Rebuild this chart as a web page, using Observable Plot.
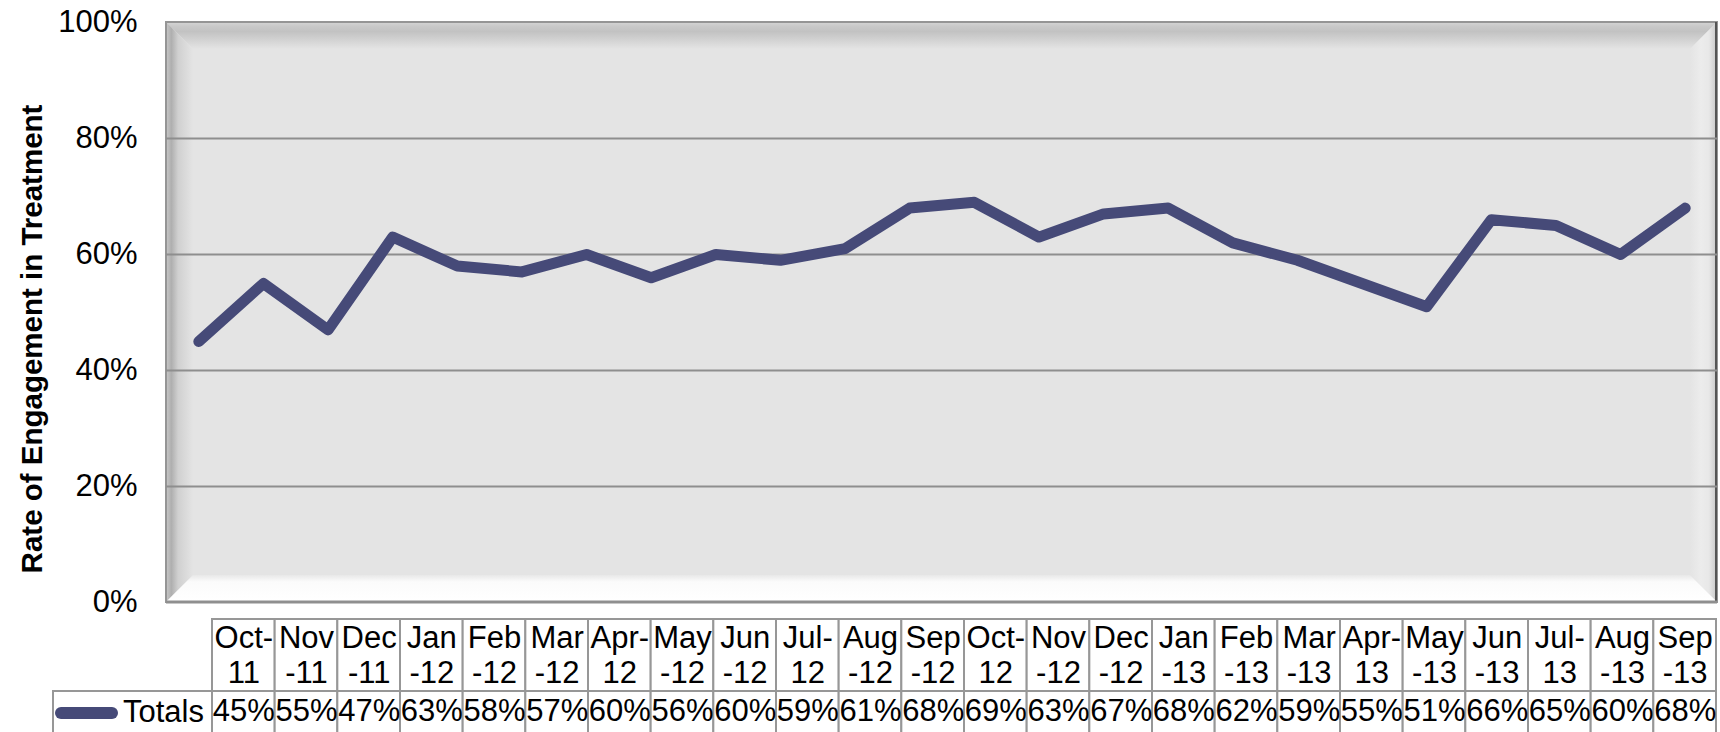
<!DOCTYPE html>
<html><head><meta charset="utf-8">
<script src="https://cdn.jsdelivr.net/npm/d3@7"></script>
<script src="https://cdn.jsdelivr.net/npm/@observablehq/plot@0.6"></script>
<style>
html,body{margin:0;padding:0;background:#fff;overflow:hidden;}
#chart{position:relative;width:1720px;height:732px;overflow:hidden;font-family:"Liberation Sans",Arial,sans-serif;}
#chart svg{display:block;overflow:hidden;max-width:none;}
#chart svg.tbl{position:absolute;left:0;top:612px;}
</style></head><body><div id="chart"></div>
<script>
// ---- data ----
const months = ["Oct-11","Nov-11","Dec-11","Jan-12","Feb-12","Mar-12","Apr-12","May-12","Jun-12","Jul-12","Aug-12","Sep-12",
                "Oct-12","Nov-12","Dec-12","Jan-13","Feb-13","Mar-13","Apr-13","May-13","Jun-13","Jul-13","Aug-13","Sep-13"];
const headerLabels = ["Oct-\n11","Nov\n-11","Dec\n-11","Jan\n-12","Feb\n-12","Mar\n-12","Apr-\n12","May\n-12","Jun\n-12","Jul-\n12","Aug\n-12","Sep\n-12",
                      "Oct-\n12","Nov\n-12","Dec\n-12","Jan\n-13","Feb\n-13","Mar\n-13","Apr-\n13","May\n-13","Jun\n-13","Jul-\n13","Aug\n-13","Sep\n-13"];
const totals = [0.45,0.55,0.47,0.63,0.58,0.57,0.60,0.56,0.60,0.59,0.61,0.68,0.69,0.63,0.67,0.68,0.62,0.59,0.55,0.51,0.66,0.65,0.60,0.68];
const yTicks = [0,0.2,0.4,0.6,0.8,1];
const gridTicks = [0.2,0.4,0.6,0.8];
const seriesName = "Totals";
const yTitle = "Rate of Engagement in Treatment";

const FONT = "Liberation Sans, Arial, sans-serif";
const LINE = "#464a78";
const FS = 31;
const pct = d3.format(".0%");
const data = months.map((m,i)=>({month:m, value:totals[i]}));

// ---- main chart ----
const main = Plot.plot({
  width:1720, height:640, marginTop:22, marginBottom:38, marginLeft:166, marginRight:3,
  style:{fontFamily:FONT, fontSize:FS+"px", color:"#000", background:"transparent"},
  x:{type:"point", domain:months, padding:0.5, round:false, axis:null},
  y:{domain:[0,1], ticks:yTicks, tickFormat:pct, tickSize:0, tickPadding:29, label:null},
  marks:[
    Plot.frame({fill:"#e4e4e4"}),
    Plot.ruleY(gridTicks,{stroke:"#8e8e8e", strokeWidth:2}),
    Plot.line(data,{x:"month", y:"value", stroke:LINE, strokeWidth:11, strokeLinejoin:"round", strokeLinecap:"round"})
  ]
});

// bevel decoration derived from scales, and y-axis title
(function(){
  const [L,R] = main.scale("x").range;
  const [B,T] = main.scale("y").range;
  const w = 27;
  const svg = d3.select(main);
  const defs = svg.insert("defs",":first-child");
  function grad(id,x1,y1,x2,y2,stops){
    const g = defs.append("linearGradient").attr("id",id).attr("x1",x1).attr("y1",y1).attr("x2",x2).attr("y2",y2);
    stops.forEach(([o,c])=>g.append("stop").attr("offset",o).attr("stop-color",c));
  }
  grad("bvTop",0,0,0,1,[[0,"#d6d6d6"],[0.15,"#c9c9c9"],[0.35,"#c2c2c2"],[1,"#e4e4e4"]]);
  grad("bvLeft",0,0,1,0,[[0,"#c8c8c8"],[0.2,"#afafaf"],[0.45,"#d0d0d0"],[1,"#e4e4e4"]]);
  grad("bvRight",0,0,1,0,[[0,"#e4e4e4"],[0.4,"#ececec"],[0.7,"#e8e8e8"],[0.9,"#d2d2d2"],[1,"#bdbdbd"]]);
  grad("bvBottom",0,0,0,1,[[0,"#e8e8e8"],[0.25,"#fbfbfb"],[1,"#ffffff"]]);
  const frameEl = main.querySelector('[aria-label="frame"]');
  const g = document.createElementNS("http://www.w3.org/2000/svg","g");
  frameEl.parentNode.insertBefore(g, frameEl.nextSibling);
  const G = d3.select(g);
  const poly = (pts,fill)=>G.append("polygon").attr("points",pts.map(p=>p.join(",")).join(" ")).attr("fill",fill);
  poly([[L,T],[R,T],[R-w,T+w],[L+w,T+w]],"url(#bvTop)");
  poly([[L,T],[L+w,T+w],[L+w,B-w],[L,B]],"url(#bvLeft)");
  poly([[R,T],[R,B],[R-w,B-w],[R-w,T+w]],"url(#bvRight)");
  poly([[L,B],[R,B],[R-w,B-w],[L+w,B-w]],"url(#bvBottom)");
  G.append("rect").attr("x",L).attr("y",T).attr("width",R-L).attr("height",B-T).attr("fill","none").attr("stroke","#959595").attr("stroke-width",2);
  G.append("line").attr("x1",R-1).attr("x2",R-1).attr("y1",T).attr("y2",B).attr("stroke","#555").attr("stroke-width",2);
  G.append("line").attr("x1",L).attr("x2",R).attr("y1",B).attr("y2",B).attr("stroke","#8f8f8f").attr("stroke-width",3);
  // axis title
  svg.append("text").attr("transform","translate(42,339) rotate(-90)")
    .attr("text-anchor","middle").attr("font-family",FONT).attr("font-size",29.5).attr("font-weight","bold")
    .attr("fill","#000").text(yTitle);
})();

// ---- data table ----
const tableRows = months.map((m,i)=>({month:m, header:headerLabels[i], value:pct(totals[i])}));
const table = Plot.plot({
  width:1720, height:120, marginTop:7, marginBottom:5, marginLeft:212, marginRight:4,
  style:{fontFamily:FONT, fontSize:FS+"px", color:"#000", background:"transparent"},
  x:{type:"band", domain:months, padding:0, round:false, axis:null},
  y:{domain:[0,3], range:[7,115], axis:null},
  marks:[
    Plot.barY(tableRows,{x:"month", y1:0, y2:2, fill:"#fff", stroke:"#979797", strokeWidth:2, inset:0}),
    Plot.barY(tableRows,{x:"month", y1:2, y2:3.6, fill:"#fff", stroke:"#979797", strokeWidth:2, inset:0}),
    Plot.text(tableRows,{x:"month", y:1, dy:-1.5, text:"header", lineHeight:1.13, fontSize:FS, fill:"#000"}),
    Plot.text(tableRows,{x:"month", y:2.5, dy:2, text:"value", fontSize:FS, fill:"#000"})
  ]
});
table.classList.add("tbl");

// legend cell of the data table
(function(){
  const ys = table.scale("y");
  const x0 = table.scale("x").range[0];
  const top = ys.apply(2), mid = ys.apply(2.5);
  const G = d3.select(table).append("g");
  G.append("rect").attr("x",53).attr("y",top).attr("width",x0-53).attr("height",60).attr("fill","#fff").attr("stroke","#979797").attr("stroke-width",2);
  G.append("line").attr("x1",61).attr("x2",112).attr("y1",mid+4).attr("y2",mid+4).attr("stroke",LINE).attr("stroke-width",12).attr("stroke-linecap","round");
  G.append("text").attr("x",x0-8).attr("y",mid+13).attr("text-anchor","end").attr("font-size",FS).attr("font-family",FONT).attr("fill","#000").text(seriesName);
})();

const chart = document.getElementById("chart");
chart.appendChild(main);
chart.appendChild(table);
</script>
</body></html>
